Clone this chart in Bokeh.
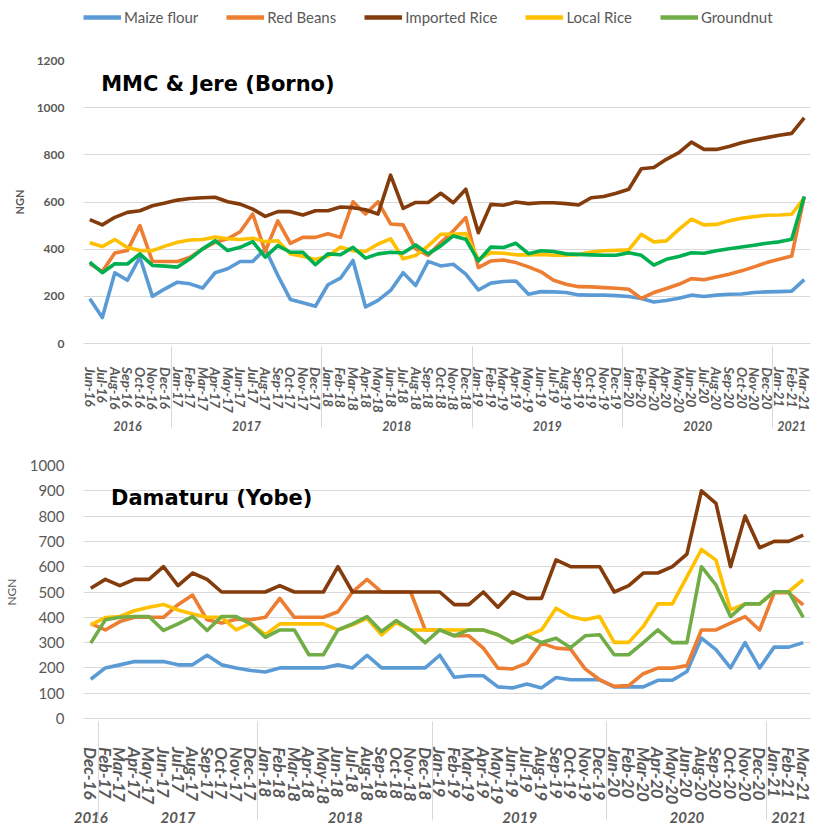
from bokeh.plotting import figure
from bokeh.models import (FactorRange, Range1d, SingleIntervalTicker, Legend,
                          LegendItem, Label)
from bokeh.layouts import column
from bokeh.embed import file_html
from bokeh.resources import INLINE

# ---------------- data: MMC & Jere (Borno) ----------------
top_months = [
    "Jun-16", "Jul-16", "Aug-16", "Sep-16", "Oct-16", "Nov-16", "Dec-16",
    "Jan-17", "Feb-17", "Mar-17", "Apr-17", "May-17", "Jun-17", "Jul-17",
    "Aug-17", "Sep-17", "Oct-17", "Nov-17", "Dec-17",
    "Jan-18", "Feb-18", "Mar-18", "Apr-18", "May-18", "Jun-18", "Jul-18",
    "Aug-18", "Sep-18", "Oct-18", "Nov-18", "Dec-18",
    "Jan-19", "Feb-19", "Mar-19", "Apr-19", "May-19", "Jun-19", "Jul-19",
    "Aug-19", "Sep-19", "Oct-19", "Nov-19", "Dec-19",
    "Jan-20", "Feb-20", "Mar-20", "Apr-20", "May-20", "Jun-20", "Jul-20",
    "Aug-20", "Sep-20", "Oct-20", "Nov-20", "Dec-20",
    "Jan-21", "Feb-21", "Mar-21",
]
top_maize = [190, 110, 300, 268, 366, 200, 232, 260, 253, 235, 300, 317, 348, 348,
             401, 289, 187, 173, 158, 249, 277, 352, 155, 183, 225, 300, 246, 348,
             329, 336, 294, 227, 256, 263, 265, 209, 220, 219, 216, 206, 205, 205,
             203, 199, 191, 176, 182, 192, 205, 199, 205, 209, 210, 216, 219, 220,
             222, 271]
top_beans = [338, 305, 384, 394, 500, 348, 348, 348, 366, 401, 429, 444, 474, 549,
             390, 520, 425, 450, 450, 465, 450, 601, 549, 601, 507, 503, 401, 374,
             428, 477, 534, 322, 350, 354, 343, 325, 304, 268, 251, 241, 240, 237,
             234, 230, 191, 216, 233, 251, 275, 270, 282, 294, 308, 325, 343, 357,
             371, 623]
top_imp_rice = [525, 503, 535, 556, 563, 584, 596, 608, 615, 618, 620, 601, 591, 570,
                539, 559, 559, 545, 563, 563, 579, 576, 567, 549, 714, 573, 598, 598,
                637, 597, 654, 470, 590, 586, 600, 593, 597, 597, 593, 587, 618, 623,
                637, 654, 741, 746, 781, 809, 854, 823, 823, 835, 851, 863, 873, 883,
                891, 957]
top_loc_rice = [427, 411, 441, 407, 394, 394, 413, 429, 439, 441, 451, 444, 441, 446,
                432, 436, 380, 370, 356, 370, 408, 394, 390, 422, 444, 359, 373, 414,
                463, 463, 466, 357, 385, 383, 376, 376, 378, 374, 374, 377, 388, 393,
                395, 397, 463, 431, 435, 484, 527, 503, 505, 520, 531, 538, 544, 545,
                548, 618]
top_groundnut = [345, 300, 338, 337, 380, 331, 328, 324, 359, 401, 436, 394, 408, 432,
                 366, 415, 387, 387, 334, 380, 376, 408, 362, 380, 387, 384, 418, 380,
                 414, 456, 442, 350, 409, 407, 425, 381, 393, 390, 380, 378, 376, 374,
                 374, 385, 374, 332, 357, 369, 385, 383, 393, 402, 409, 417, 425, 431,
                 442, 623]

# ---------------- data: Damaturu (Yobe) ----------------
bot_months = [
    "Dec-16",
    "Feb-17", "Mar-17", "Apr-17", "May-17", "Jun-17", "Jul-17", "Aug-17",
    "Sep-17", "Oct-17", "Nov-17", "Dec-17",
    "Jan-18", "Feb-18", "Mar-18", "Apr-18", "May-18", "Jun-18", "Jul-18",
    "Aug-18", "Sep-18", "Oct-18", "Nov-18", "Dec-18",
    "Jan-19", "Feb-19", "Mar-19", "Apr-19", "May-19", "Jun-19", "Jul-19",
    "Aug-19", "Sep-19", "Oct-19", "Nov-19", "Dec-19",
    "Jan-20", "Feb-20", "Mar-20", "Apr-20", "May-20", "Jun-20",
    "Aug-20", "Sep-20", "Oct-20", "Nov-20", "Dec-20",
    "Jan-21", "Feb-21", "Mar-21",
]
bot_maize = [155, 200, 212, 225, 225, 225, 212, 212, 250, 212, 200, 190, 184, 200,
             200, 200, 200, 212, 200, 250, 200, 200, 200, 200, 250, 163, 169, 169,
             125, 121, 136, 121, 162, 153, 153, 153, 125, 125, 125, 151, 151, 186,
             318, 272, 200, 300, 200, 282, 282, 300]
bot_beans = [375, 350, 383, 400, 400, 400, 450, 488, 390, 377, 392, 390, 400, 475,
             400, 400, 400, 422, 500, 550, 500, 500, 500, 350, 350, 327, 327, 278,
             199, 196, 219, 298, 278, 274, 196, 153, 127, 130, 177, 199, 199, 209,
             350, 350, 377, 403, 350, 497, 497, 449]
bot_imp_rice = [515, 550, 525, 550, 550, 600, 525, 575, 550, 500, 500, 500, 500, 525,
                500, 500, 500, 600, 500, 500, 500, 500, 500, 500, 500, 450, 450, 500,
                440, 500, 475, 475, 627, 600, 600, 600, 500, 525, 575, 575, 600, 650,
                900, 850, 600, 800, 675, 700, 700, 725]
bot_loc_rice = [370, 399, 403, 426, 440, 451, 429, 413, 400, 400, 350, 377, 331, 374,
                374, 374, 374, 350, 370, 396, 331, 379, 350, 350, 350, 350, 350, 350,
                331, 300, 327, 350, 436, 403, 390, 403, 301, 301, 364, 453, 453, 560,
                668, 626, 429, 453, 453, 501, 501, 549]
bot_groundnut = [298, 390, 400, 403, 403, 348, 374, 403, 348, 403, 403, 374, 321, 350,
                 350, 252, 252, 350, 374, 403, 344, 387, 350, 300, 350, 327, 350, 350,
                 331, 300, 327, 300, 317, 280, 327, 331, 252, 252, 300, 350, 300, 300,
                 600, 528, 403, 453, 453, 501, 501, 400]

series_names = ["Maize flour", "Red Beans", "Imported Rice", "Local Rice", "Groundnut"]
legend_colors = ["#5B9BD5", "#ED7D31", "#843C0C", "#FFC000", "#70AD47"]
top_colors = ["#5B9BD5", "#ED7D31", "#843C0C", "#FFC000", "#00B050"]
bot_colors = ["#5B9BD5", "#ED7D31", "#843C0C", "#FFC000", "#70AD47"]

GRID = "#d9d9d9"
TXT = "#595959"
FONT = "Lato"
W = 817


def factors_of(months, pad):
    # pad: leading spacing so that the year row sits lower, as in the original
    return [("20" + m[-2:], pad + m) for m in months]


def base_fig(factors, height, ymax, step, border_top, border_bottom, border_right,
             tick_size, tick_style, month_size, year_size, ylab_size, ylab_style):
    p = figure(width=W, height=height,
               x_range=FactorRange(factors=factors, factor_padding=0, group_padding=0,
                                   subgroup_padding=0, range_padding=0),
               y_range=Range1d(0, ymax),
               output_backend="svg", toolbar_location=None,
               min_border_left=71, min_border_right=border_right,
               min_border_top=border_top, min_border_bottom=border_bottom)
    p.outline_line_color = None
    p.xgrid.grid_line_color = None
    p.ygrid.grid_line_color = GRID
    p.ygrid.grid_line_width = 1

    ya = p.yaxis[0]
    ya.ticker = SingleIntervalTicker(interval=step)
    ya.axis_line_color = None
    ya.major_tick_line_color = None
    ya.minor_tick_line_color = None
    ya.major_tick_out = 0
    ya.major_tick_in = 0
    ya.major_label_standoff = 15
    ya.major_label_text_font = FONT
    ya.major_label_text_font_size = tick_size
    ya.major_label_text_font_style = tick_style
    ya.major_label_text_color = TXT
    ya.axis_label = "NGN"
    ya.axis_label_text_font = FONT
    ya.axis_label_text_font_size = ylab_size
    ya.axis_label_text_font_style = ylab_style
    ya.axis_label_text_color = TXT
    ya.axis_label_standoff = 8

    xa = p.xaxis[0]
    xa.axis_line_color = GRID
    xa.axis_line_width = 1
    xa.major_tick_line_color = None
    xa.minor_tick_line_color = None
    xa.major_tick_out = 0
    xa.major_tick_in = 0
    xa.major_label_standoff = 5
    xa.major_label_orientation = "vertical"
    xa.major_label_text_font = FONT
    xa.major_label_text_font_size = month_size
    xa.major_label_text_font_style = "bold italic"
    xa.major_label_text_color = TXT
    xa.group_text_font = FONT
    xa.group_text_font_size = year_size
    xa.group_text_font_style = "bold italic"
    xa.group_text_color = TXT
    xa.separator_line_color = GRID
    xa.separator_line_width = 1
    return p


# ---------------- legend strip ----------------
pl = figure(width=W, height=40, x_range=Range1d(0, 1), y_range=Range1d(0, 1),
            x_axis_type=None, y_axis_type=None, output_backend="svg",
            toolbar_location=None, min_border_left=72, min_border_right=0,
            min_border_top=7, min_border_bottom=0)
pl.outline_line_color = None
pl.grid.visible = False
items = []
for name, col in zip(series_names, legend_colors):
    # points lie outside the visible range: only the legend swatch shows
    r = pl.line(x=[10, 11], y=[10, 11], line_color=col, line_width=4.5)
    items.append(LegendItem(label=name, renderers=[r]))
legend = Legend(items=items, orientation="horizontal", location="top_left",
                padding=0, margin=0, spacing=28, glyph_width=38, glyph_height=20,
                label_height=20, label_standoff=3, border_line_color=None,
                background_fill_alpha=0, label_text_font=FONT,
                label_text_font_size="15px", label_text_color=TXT)
pl.add_layout(legend)

# ---------------- top figure ----------------
f1 = factors_of(top_months, "\u2003\u2002\u2005")
p1 = base_fig(f1, 397, 1200, 200, 20, 94, 4, "12px", "bold", "13.5px", "12.5px",
              "11px", "bold")
top_series = [top_maize, top_beans, top_imp_rice, top_loc_rice, top_groundnut]
for vals, col in zip(top_series, top_colors):
    p1.line(x=f1, y=vals, line_color=col, line_width=3.6, line_join="round")

p1.add_layout(Label(x=1.41, y=1100, text="MMC & Jere (Borno)", text_font="DejaVu Sans",
                    text_font_size="21px", text_font_style="bold", text_color="black",
                    text_baseline="middle", text_align="left"))

# ---------------- bottom figure ----------------
f2 = factors_of(bot_months, "\u2003\u2002\u2005")
p2 = base_fig(f2, 390, 1000, 100, 28, 109, 7, "15px", "normal", "17px", "15px",
              "12px", "normal")
bot_series = [bot_maize, bot_beans, bot_imp_rice, bot_loc_rice, bot_groundnut]
for vals, col in zip(bot_series, bot_colors):
    p2.line(x=f2, y=vals, line_color=col, line_width=3.6, line_join="round")

p2.add_layout(Label(x=1.89, y=870, text="Damaturu (Yobe)", text_font="DejaVu Sans",
                    text_font_size="21px", text_font_style="bold", text_color="black",
                    text_baseline="middle", text_align="left"))

layout = column(pl, p1, p2)
open("out.html", "w").write(file_html(layout, INLINE))
